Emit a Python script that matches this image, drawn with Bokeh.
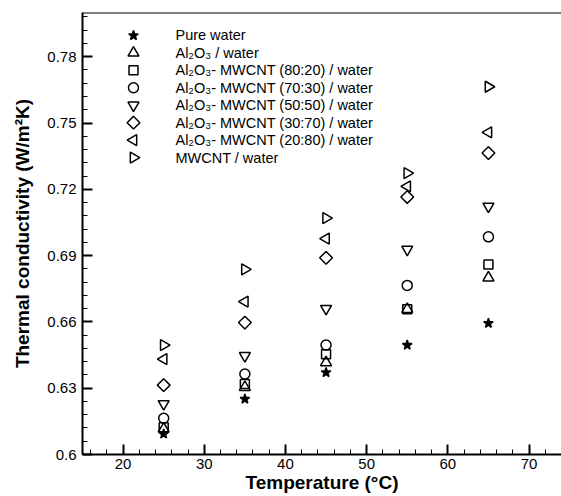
import math
from bokeh.plotting import figure
from bokeh.models import Range1d, FixedTicker, CustomJSTickFormatter, Span
from bokeh.core.properties import value
from bokeh.embed import file_html
from bokeh.resources import INLINE

# ---- data ----
temps = [25, 35, 45, 55, 65]
pure_water = [0.6093, 0.6251, 0.6371, 0.6495, 0.6594]
al2o3 = [0.6116, 0.6304, 0.6416, 0.6657, 0.6800]
mix_80_20 = [0.6123, 0.6319, 0.6454, 0.6657, 0.6860]
mix_70_30 = [0.6164, 0.6364, 0.6495, 0.6765, 0.6985]
mix_50_50 = [0.6229, 0.6447, 0.6660, 0.6928, 0.7123]
mix_30_70 = [0.6314, 0.6597, 0.6890, 0.7165, 0.7364]
mix_20_80 = [0.6432, 0.6692, 0.6977, 0.7213, 0.7458]
mwcnt = [0.6495, 0.6838, 0.7070, 0.7273, 0.7664]

labels = [
    "Pure water",
    "Al\u2082O\u2083 / water",
    "Al\u2082O\u2083- MWCNT (80:20) / water",
    "Al\u2082O\u2083- MWCNT (70:30) / water",
    "Al\u2082O\u2083- MWCNT (50:50) / water",
    "Al\u2082O\u2083- MWCNT (30:70) / water",
    "Al\u2082O\u2083- MWCNT (20:80) / water",
    "MWCNT / water",
]
x_major = [20, 30, 40, 50, 60, 70]
x_minor = list(range(16, 75, 2))
y_major = [0.6, 0.63, 0.66, 0.69, 0.72, 0.75, 0.78]
y_minor = [round(0.6 + 0.006 * i, 3) for i in range(0, 34)]

# legend layout (in axis units)
LEG_MARK_X = 21.28
LEG_TEXT_X = 26.45
LEG_TOP_Y = 0.7896
LEG_STEP_Y = 0.00789

FONT = "Liberation Sans"

p = figure(width=561, height=496, output_backend="svg", toolbar_location=None,
           x_range=Range1d(15, 74), y_range=Range1d(0.6, 0.8),
           min_border_left=82, min_border_right=0, min_border_top=12,
           min_border_bottom=42)
p.outline_line_color = None
p.grid.visible = False
p.background_fill_color = "white"

p.xaxis.ticker = FixedTicker(ticks=x_major, minor_ticks=x_minor)
p.yaxis.ticker = FixedTicker(ticks=y_major, minor_ticks=y_minor)
p.yaxis.formatter = CustomJSTickFormatter(code="return String(Number(tick.toFixed(2)));")

for ax in (p.xaxis[0], p.yaxis[0]):
    ax.axis_line_width = 2
    ax.axis_line_color = "black"
    ax.major_tick_in = 10
    ax.major_tick_out = 0
    ax.minor_tick_in = 5
    ax.minor_tick_out = 0
    ax.major_tick_line_width = 2
    ax.minor_tick_line_width = 1
    ax.major_label_text_font = FONT
    ax.major_label_text_font_size = "15px"
    ax.major_label_text_color = "black"
    ax.axis_label_text_font = FONT
    ax.axis_label_text_font_style = "bold"
    ax.axis_label_text_font_size = "19px"
    ax.axis_label_text_color = "black"

p.xaxis.axis_label = "Temperature (\u00b0C)"
p.xaxis.major_label_standoff = 4
p.xaxis.axis_label_standoff = 0
p.yaxis.axis_label = "Thermal conductivity (W/m\u00b2K)"
p.yaxis.major_label_standoff = 6
p.yaxis.axis_label_standoff = 11

p.add_layout(Span(location=0.8, dimension="width", line_color="black", line_width=2))

series = [pure_water, al2o3, mix_80_20, mix_70_30, mix_50_50, mix_30_70, mix_20_80, mwcnt]
styles = [
    dict(marker="star", size=10, fill_color="black", angle=0.0),
    dict(marker="triangle", size=11, fill_color=None, angle=0.0),
    dict(marker="square", size=9, fill_color=None, angle=0.0),
    dict(marker="circle", size=10, fill_color=None, angle=0.0),
    dict(marker="inverted_triangle", size=11, fill_color=None, angle=0.0),
    dict(marker="square", size=9, fill_color=None, angle=math.pi / 4),
    dict(marker="triangle", size=11, fill_color=None, angle=math.pi / 2),
    dict(marker="triangle", size=11, fill_color=None, angle=-math.pi / 2),
]

for i, (vals, st, lab) in enumerate(zip(series, styles, labels)):
    kw = dict(marker=st["marker"], size=st["size"], fill_color=st["fill_color"],
              line_color="black", line_width=1.5, angle=st["angle"])
    p.scatter(temps, vals, **kw)
    ly = LEG_TOP_Y - i * LEG_STEP_Y
    p.scatter([LEG_MARK_X], [ly], **kw)
    p.text([LEG_TEXT_X], [ly], text=[lab], text_font=value(FONT),
           text_font_size="14.5px", text_baseline="middle", text_align="left",
           text_color="black")

open("out.html", "w").write(file_html(p, INLINE))
